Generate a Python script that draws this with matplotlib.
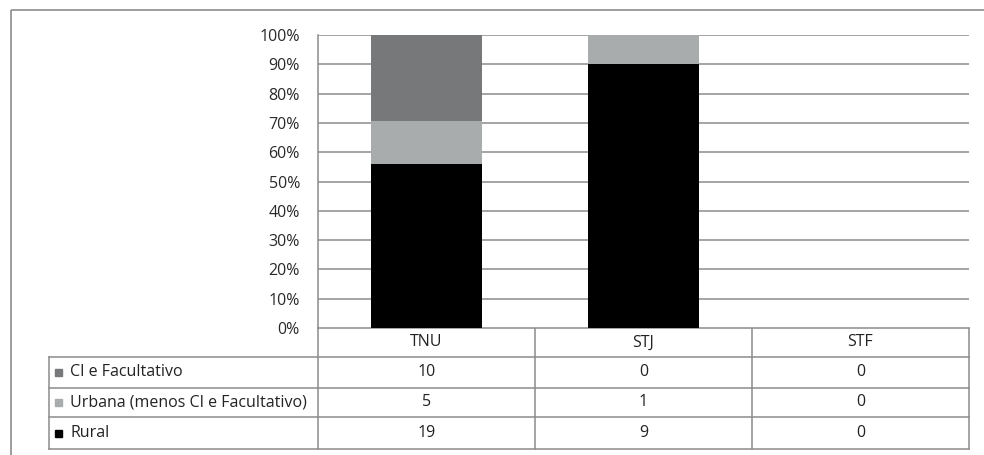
import matplotlib
matplotlib.use("Agg")
import matplotlib.pyplot as plt
from matplotlib.patches import Rectangle

categories = ["TNU", "STJ", "STF"]
series_names = ["CI e Facultativo", "Urbana (menos CI e Facultativo)", "Rural"]
ci_fac = [10, 0, 0]
urbana = [5, 1, 0]
rural = [19, 9, 0]
colors = {"CI e Facultativo": "#76787a", "Urbana (menos CI e Facultativo)": "#a9acac", "Rural": "#000000"}
ytick_labels = ["0%", "10%", "20%", "30%", "40%", "50%", "60%", "70%", "80%", "90%", "100%"]

plt.rcParams['font.family'] = ['Open Sans', 'DejaVu Sans']
FS = 11.5
W, H = 984, 455
fig = plt.figure(figsize=(W / 100, H / 100), dpi=100)

# pixel-space overlay axes for border and table
bg = fig.add_axes([0, 0, 1, 1])
bg.set_xlim(0, W)
bg.set_ylim(H, 0)
bg.axis("off")

gray = "#8c8c8c"
bg.add_patch(Rectangle((11, 10), 1000, 500, fill=False, edgecolor=gray, lw=1.2))

x0, x1 = 318, 969
y_top, y_bot = 35, 328
ax = fig.add_axes([x0 / W, 1 - y_bot / H, (x1 - x0) / W, (y_bot - y_top) / H])

totals = [a + b + c for a, b, c in zip(ci_fac, urbana, rural)]
def pct(vals):
    return [v / t * 100 if t else 0 for v, t in zip(vals, totals)]

xs = range(len(categories))
bottom = [0] * len(categories)
for name, vals in [("Rural", rural), ("Urbana (menos CI e Facultativo)", urbana), ("CI e Facultativo", ci_fac)]:
    p = pct(vals)
    ax.bar(xs, p, bottom=bottom, width=0.51, color=colors[name], zorder=3)
    bottom = [b + v for b, v in zip(bottom, p)]

ax.set_xlim(-0.5, len(categories) - 0.5)
ax.set_ylim(0, 100)
ax.set_yticks(range(0, 101, 10))
ax.set_yticklabels(ytick_labels, fontsize=FS, color="#2a2a2a")
ax.tick_params(axis="y", length=0, pad=13)
ax.set_xticks([])
ax.yaxis.grid(True, color=gray, lw=1.1, zorder=0)
for s in ["top", "right", "bottom"]:
    ax.spines[s].set_visible(False)
ax.spines["left"].set_color(gray)
ax.spines["left"].set_linewidth(1.1)

# data table
tx0 = 49
col_w = (x1 - x0) / len(categories)
row_y = [328, 357, 388, 417, 449]
lw = 1.1
for i in range(len(categories) + 1):
    xx = x0 + i * col_w
    bg.plot([xx, xx], [row_y[0], row_y[-1]], color=gray, lw=lw)
bg.plot([x0, x1], [row_y[0], row_y[0]], color=gray, lw=lw)
for yy in row_y[1:]:
    bg.plot([tx0, x1], [yy, yy], color=gray, lw=lw)
bg.plot([tx0, tx0], [row_y[1], row_y[-1]], color=gray, lw=lw)

for i, c in enumerate(categories):
    bg.text(x0 + (i + 0.5) * col_w, (row_y[0] + row_y[1]) / 2, c, ha="center", va="center", fontsize=FS, color="#222222")

rows = [("CI e Facultativo", ci_fac), ("Urbana (menos CI e Facultativo)", urbana), ("Rural", rural)]
for r, (name, vals) in enumerate(rows):
    yc = (row_y[r + 1] + row_y[r + 2]) / 2
    bg.add_patch(Rectangle((55, yc - 3.5), 7, 7, color=colors[name]))
    bg.text(70, yc, name, ha="left", va="center", fontsize=FS, color="#222222")
    for i, v in enumerate(vals):
        bg.text(x0 + (i + 0.5) * col_w, yc, str(v), ha="center", va="center", fontsize=FS, color="#222222")

fig.savefig("out.png", dpi=100)
